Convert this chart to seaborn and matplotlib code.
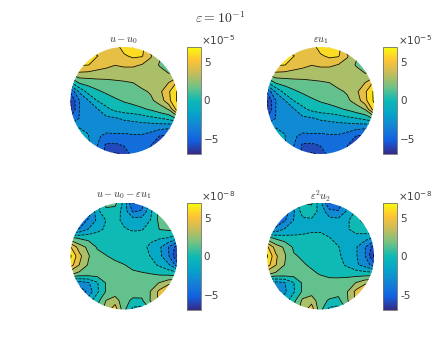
import numpy as np
import matplotlib
matplotlib.use("Agg")
import matplotlib.pyplot as plt
from matplotlib.cm import ScalarMappable
from matplotlib.colors import Normalize
from matplotlib.patches import Circle
import seaborn as sns

# values, on a 13x13 grid over the disc (top row first)
u_minus_u0 = [
    [4.5, 4.5, 4.5, 4.5, 4.5, 4.5, 6, 6.8, 6, 3, 3, 3, 3],
    [6, 6, 6, 5.3, 4.5, 4.5, 5, 5.6, 5.4, 3.9, 2.5, 1.5, 1.5],
    [5.5, 5.4, 5.3, 4.5, 4.2, 3.8, 4, 4, 3.7, 3.2, 2.1, 1.4, 1.5],
    [2.5, 3.4, 3.3, 3.2, 3, 2.9, 3, 3, 3, 3, 2.9, 2.3, 2.5],
    [-1, 0.95, 1.3, 1.6, 1.8, 2, 2.1, 2.25, 2.7, 3, 3.3, 3.75, 5.5],
    [-5, -2, -0.2, 0.5, 1, 1.4, 1.6, 1.9, 2, 2.4, 3.4, 5, 7],
    [-6.8, -3.75, -2.3, -0.7, -0.1, 0.5, 0.9, 1.2, 1.6, 2, 2.8, 4.8, 7],
    [-7, -3.7, -3.2, -2.4, -1.1, -0.4, 0, 0.2, 0.5, 0.9, 1.6, 2.3, 6],
    [-5, -3.7, -3.5, -3.3, -2.6, -2.4, -2, -1.8, -1.5, -1.1, -0.8, -0.3, 1],
    [-3, -2.3, -2.4, -3.2, -3.3, -3.4, -3.2, -3.1, -3.1, -3.2, -3.2, -3.4, -4],
    [-2, -1.6, -2.2, -3.6, -4, -3.9, -4, -3.9, -3.9, -4.2, -5.3, -5.5, -5.5],
    [-2, -1.6, -2, -3.7, -5.5, -5.6, -5.1, -4, -4.4, -5.2, -6, -6, -6],
    [-3, -3, -3, -4, -5.6, -7, -6.5, -4.5, -5, -5.5, -6, -6, -6],
]
eps_u1 = [list(row) for row in u_minus_u0]

u_minus_u0_eps_u1 = [
    [-4, -4, -4, -1.5, 1.2, 1.2, -1.2, -5.5, -4.5, -1.5, 0.5, 1, 1],
    [-5, -5, -4.8, -1.2, 0.4, 0.2, -1.4, -3.9, -3.6, -1, 1.2, 2.5, 3],
    [-5, -5, -3.5, -2, -0.7, -0.3, -1.1, -1.5, -1.5, -0.7, 1.2, 2.6, 3],
    [-4, -3.6, -2.2, -1.2, -0.5, -0.2, -0.6, -0.95, -0.85, -0.2, 0.8, 1, 1],
    [1.2, 0.6, 0.3, 0.1, 0, 0, 0, 0, -0.1, -0.4, -0.65, -0.85, -2],
    [5.4, 3, 1.9, 0.6, 0.3, 0.1, 0, -0.1, -0.3, -1.1, -2, -3.8, -6],
    [7, 4.2, 2.4, 1.2, 0.8, 0.4, 0.1, -0.1, -0.3, -0.8, -1.9, -3.6, -7],
    [6, 3.7, 2.1, 1.5, 1.3, 1.1, 0.8, 0.4, 0.3, -0.3, -1, -2, -4.5],
    [2.5, 1.8, 1.6, 1.5, 1.5, 1.4, 1.2, 1, 0.85, 0.75, 0.5, 0.3, 0],
    [-3, -2.9, -2.4, -0.9, 0.9, 1.4, 1.4, 1.5, 1.5, 1.8, 2.3, 3.2, 3.5],
    [-6, -5, -3.3, -1, 0.9, 1.3, 1.4, 1.3, 1.4, 2.3, 4.2, 5.9, 6.5],
    [-2, -2, -1.5, 0.2, 2.3, 3.1, 1.2, 0.5, 0.5, 2.4, 4.2, 5, 5],
    [-1, -1, -1, 1, 3, 4.6, 1.2, -1.2, -1.5, 1, 3, 3, 3],
]

eps2_u2 = [
    [-4, -4, -4, -1.8, 0.8, 1, -1.9, -5.5, -5, -2, 0, 0.5, 0.5],
    [-6, -5.5, -4.8, -2.4, -0.1, 0.1, -1.3, -3.2, -3.6, -2, -0.5, 0.9, 1.2],
    [-5.5, -5, -3.9, -2.2, -1.1, -1, -1.3, -1.7, -1.8, -1, 0.2, 1.4, 2.5],
    [-4, -3.3, -2.1, -1.6, -1.2, -1, -1, -1.2, -1.3, -0.9, -0.2, 0.2, 1],
    [1.5, 0.5, -0.1, -0.3, -0.4, -0.3, -0.3, -0.7, -1.1, -1.2, -1.3, -1.7, -2.5],
    [5.6, 3, 2, 0.5, 0.1, 0, 0, -0.2, -0.7, -1.3, -2.1, -3.7, -6],
    [7, 4, 2.4, 0.9, 0.55, 0.2, 0, -0.2, -0.6, -1.1, -2.1, -3.7, -7],
    [6, 3.8, 2.2, 1.4, 0.9, 0.55, 0.25, 0, -0.3, -1, -2, -2.9, -4.5],
    [2.5, 1.9, 1.7, 1.5, 1.3, 1, 0.65, 0.4, 0.3, 0.2, 0.1, 0, 0],
    [-3, -2.7, -2.3, -0.8, 1, 1.4, 1.4, 1.2, 1.3, 1.6, 2.3, 3.3, 3.5],
    [-6, -5, -2.5, -0.9, 1, 1.5, 1.5, 1.4, 1.3, 2.2, 4.2, 6, 6.5],
    [-2, -2, -1.5, 0.3, 2.6, 3.2, 1.2, 0.6, 0.3, 2.1, 4, 5, 5],
    [-1, -1, -1, 1, 3, 4.6, 1.2, -1.2, -1.5, 1, 3, 3, 3],
]

grid_pos = [-1, -5/6, -4/6, -3/6, -2/6, -1/6, 0, 1/6, 2/6, 3/6, 4/6, 5/6, 1]
levels = [-7.5, -6.75, -5.25, -3.75, -2.25, -0.75, 0.75, 2.25, 3.75, 5.25, 6.75, 7.5]
bar_ticks = [-5, 0, 5]
bar_labels = ["-5", "0", "5"]
parula = ["#352A87", "#1360E0", "#1481D6", "#06A4CA", "#0DB9B5",
          "#6FC285", "#C4BC5C", "#FDC335", "#F9FB0E"]

W, H = 435, 349
sns.set_theme(style="white")
plt.rcParams["mathtext.fontset"] = "cm"
cmap = sns.blend_palette(parula, n_colors=256, as_cmap=True)
norm = Normalize(-7, 7)
TXT = "#404040"

fig = plt.figure(figsize=(W / 100, H / 100), dpi=100)


def panel(field, title, exp, cx, cy, bar_x, bar_top):
    r = 53.5
    ax = fig.add_axes([(cx - r) / W, 1 - (cy + r) / H, 2 * r / W, 2 * r / H])
    ax.set_xlim(-1, 1)
    ax.set_ylim(-1, 1)
    ax.axis("off")
    z = np.array(field, dtype=float)[::-1]
    disc = Circle((0, 0), 1, transform=ax.transData)
    cf = ax.contourf(grid_pos, grid_pos, z, levels=levels, cmap=cmap, norm=norm)
    cf.set_clip_path(disc)
    cl = ax.contour(grid_pos, grid_pos, z, levels=levels[1:-1], colors="black", linewidths=0.55)
    cl.set_clip_path(disc)
    fig.text(cx / W, 1 - (cy - 60) / H, title, ha="center", va="center", fontsize=7.5, color="#303030")

    cax = fig.add_axes([bar_x / W, 1 - (bar_top + 107) / H, 14 / W, 107 / H])
    cb = fig.colorbar(ScalarMappable(norm=norm, cmap=cmap), cax=cax)
    cb.set_ticks(bar_ticks, labels=bar_labels)
    cb.ax.tick_params(length=0, labelsize=7.5, labelcolor=TXT, pad=2)
    cb.outline.set_edgecolor("#707070")
    cb.outline.set_linewidth(0.6)
    fig.text((bar_x + 14.5) / W, 1 - (bar_top - 7) / H, r"$\mathregular{\times 10^{" + exp + "}}$",
             ha="left", va="center", fontsize=7.5, color=TXT)


panel(u_minus_u0, r"$u-u_0$", "-5", 124, 100.5, 187, 47)
panel(eps_u1, r"$\varepsilon u_1$", "-5", 320.5, 100.5, 383.5, 47)
panel(u_minus_u0_eps_u1, r"$u-u_0-\varepsilon u_1$", "-8", 124, 256, 187, 203)
panel(eps2_u2, r"$\varepsilon^2 u_2$", "-8", 320.5, 256, 383.5, 203)

fig.text(220 / W, 1 - 18 / H, r"$\varepsilon=10^{-1}$", ha="center", va="center", fontsize=10, color="#303030")

fig.savefig("out.png", dpi=100)
